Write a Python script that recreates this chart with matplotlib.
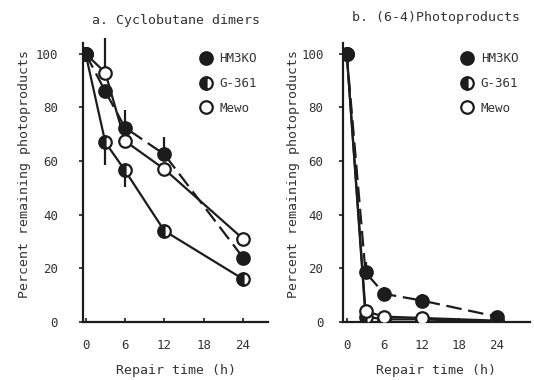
#!/usr/bin/env python3
"""Remaining photoproducts after UV repair, two panels."""

import matplotlib

matplotlib.use("Agg")
import matplotlib.pyplot as plt
from matplotlib.lines import Line2D

plt.rcParams["font.family"] = ["DejaVu Sans Mono"]

TIME = [0, 3, 6, 12, 24]
SERIES = ["HM3KO", "G-361", "Mewo"]

# panel a: cyclobutane dimers
A_HM3KO = [100, 86, 72.5, 62.5, 24]
A_G361 = [100, 67, 56.5, 34, 16]
A_MEWO = [100, 93, 67.5, 57, 31]
A_HM3KO_ERR = ([0, 0, 0, 0, 0], [0, 0, 6.5, 6.5, 0])
A_G361_ERR = ([0, 8.5, 6, 0, 0], [0, 0, 0, 0, 0])
A_MEWO_ERR = ([0, 0, 0, 0, 0], [0, 13, 0, 0, 0])

# panel b: (6-4) photoproducts
B_HM3KO = [100, 18.5, 10.5, 8, 2]
B_G361 = [100, 2, 1, 1, 0]
B_MEWO = [100, 4, 2, 1.5, 0.5]
B_HM3KO_ERR = ([0, 0, 0, 0, 0], [0, 4, 2.5, 2.5, 0])

INK = "#1c1c1c"
TEXT = "#333333"

STYLE = {
    "HM3KO": dict(marker="o", fillstyle="full", markerfacecolor=INK, linestyle=(0, (7, 3))),
    "G-361": dict(marker="o", fillstyle="left", markerfacecolor=INK,
                  markerfacecoloralt="white", linestyle="-"),
    "Mewo": dict(marker="o", fillstyle="full", markerfacecolor="white", linestyle="-"),
}


def draw_series(ax, name, y, err=None, zorder=3):
    st = dict(STYLE[name])
    ls = st.pop("linestyle")
    if err is not None:
        ax.errorbar(TIME, y, yerr=err, fmt="none", ecolor=INK, elinewidth=1.6,
                    capsize=0, zorder=zorder - 1)
    ax.plot(TIME, y, color=INK, linewidth=1.6, linestyle=ls, markersize=9,
            markeredgecolor=INK, markeredgewidth=1.6, zorder=zorder, **st)


def style_axes(ax, xlim, title, title_y, ypad, ylabelpad):
    ax.set_xlim(*xlim)
    ax.set_ylim(0, 110)
    ax.set_xticks([0, 6, 12, 18, 24])
    ax.set_yticks([0, 20, 40, 60, 80, 100])
    for side in ("top", "right"):
        ax.spines[side].set_visible(False)
    for side in ("left", "bottom"):
        ax.spines[side].set_linewidth(1.6)
        ax.spines[side].set_color(INK)
    ax.spines["left"].set_bounds(0, 104)
    ax.tick_params(axis="y", direction="out", length=3, width=1.2, pad=ypad,
                   labelsize=9, colors=INK, labelcolor=TEXT)
    ax.tick_params(axis="x", direction="in", length=3, width=1.2, pad=12,
                   labelsize=9, colors=INK, labelcolor=TEXT)
    ax.set_xlabel("Repair time (h)", fontsize=9.5, color=TEXT, labelpad=9)
    ax.set_ylabel("Percent remaining photoproducts", fontsize=9.5, color=TEXT,
                  labelpad=ylabelpad)
    ax.set_title(title, fontsize=9.5, color=TEXT, y=title_y, pad=2)

    handles = []
    for name in SERIES:
        st = dict(STYLE[name])
        st.pop("linestyle")
        handles.append(Line2D([], [], color=INK, linestyle="none", markersize=9,
                              markeredgecolor=INK, markeredgewidth=1.6, **st))
    ax.legend(handles, SERIES, loc="upper left", bbox_to_anchor=(0.63, 0.915),
              frameon=False, handlelength=1.0, handletextpad=0.6,
              labelspacing=0.95, borderpad=0, borderaxespad=0, fontsize=9,
              labelcolor=TEXT)


fig = plt.figure(figsize=(5.34, 3.8), dpi=100)
ax_a = fig.add_axes([83 / 534, 58 / 380, 185 / 534, 295 / 380])
ax_b = fig.add_axes([343 / 534, 58 / 380, 187 / 534, 295 / 380])

draw_series(ax_a, "G-361", A_G361, A_G361_ERR, zorder=3)
draw_series(ax_a, "Mewo", A_MEWO, A_MEWO_ERR, zorder=4)
draw_series(ax_a, "HM3KO", A_HM3KO, A_HM3KO_ERR, zorder=5)
style_axes(ax_a, (-0.4, 27.8), "a. Cyclobutane dimers", 1.0, 15, 3)

draw_series(ax_b, "G-361", B_G361, None, zorder=3)
draw_series(ax_b, "Mewo", B_MEWO, None, zorder=4)
draw_series(ax_b, "HM3KO", B_HM3KO, B_HM3KO_ERR, zorder=5)
style_axes(ax_b, (-0.6, 29.3), "b. (6-4)Photoproducts", 1.01, 11, 1)

fig.savefig("out.png", dpi=100, facecolor="white")
